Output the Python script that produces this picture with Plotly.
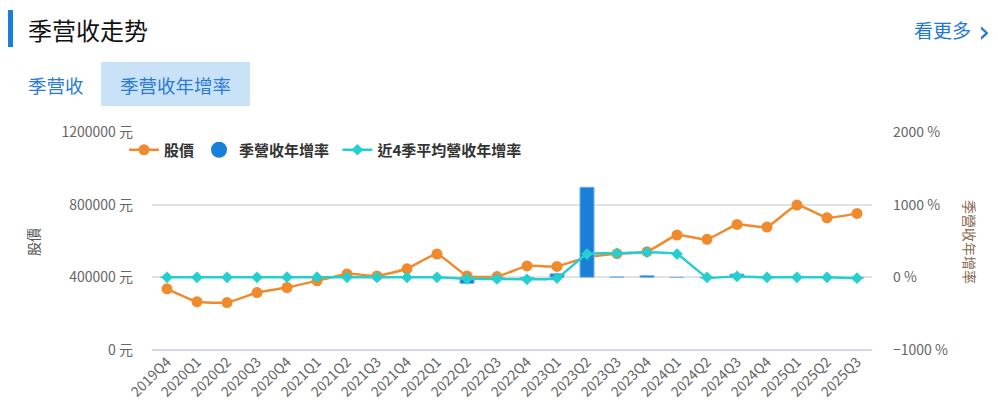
import plotly.graph_objects as go

quarters = ["2019Q4", "2020Q1", "2020Q2", "2020Q3", "2020Q4", "2021Q1", "2021Q2", "2021Q3",
            "2021Q4", "2022Q1", "2022Q2", "2022Q3", "2022Q4", "2023Q1", "2023Q2", "2023Q3",
            "2023Q4", "2024Q1", "2024Q2", "2024Q3", "2024Q4", "2025Q1", "2025Q2", "2025Q3"]
price = [337000, 266000, 261000, 316000, 344000, 381000, 419000, 408000,
         447000, 528000, 408000, 404000, 463000, 460000, 511000, 530000,
         541000, 633000, 609000, 691000, 677000, 798000, 728000, 752000]
yoy = [3, -5, 2, 4, 6, 5, 8, -3, 2, 5, -85, -20, -15, 50, 1240, 5, 25, -3, -10, 45, -5, 3, 2, -10]
yoy_avg4 = [0, 0, 0, 0, 2, 2, 0, 0, 0, 0, -20, -22, -28, -10, 320, 330, 345, 320, 0, 12, 0, 0, 0, -12]

W, H = 998, 419
L, R, T, B = 152, 872, 132, 350  # plot box in pixels


def px(x):
    return (x - L) / (R - L)


def py(y):
    return (B - y) / (B - T)


FONT = "Noto Sans CJK TC, Noto Sans, sans-serif"
ORANGE = "#f08a2c"
BLUE = "#1a7fd9"
CYAN = "#26cfcf"

fig = go.Figure()

fig.add_trace(go.Bar(x=quarters, y=yoy, yaxis="y2", name="季營收年增率",
                     marker=dict(color=BLUE, line=dict(color="#7fb8ec", width=1)),
                     width=0.47, showlegend=False))
fig.add_trace(go.Scatter(x=quarters, y=price, name="股價", mode="lines+markers",
                         line=dict(color=ORANGE, width=2.5, shape="spline", smoothing=0.4),
                         marker=dict(size=11, color=ORANGE)))
# legend entry for the bars, drawn as a round dot like the original
fig.add_trace(go.Scatter(x=[None], y=[None], name="季營收年增率 ", mode="markers",
                         marker=dict(size=17, color=BLUE, symbol="circle"), yaxis="y2"))
fig.add_trace(go.Scatter(x=quarters, y=yoy_avg4, yaxis="y2", name="近4季平均營收年增率",
                         mode="lines+markers",
                         line=dict(color=CYAN, width=2.5, shape="spline", smoothing=0.4),
                         marker=dict(size=9, color=CYAN, symbol="diamond")))

fig.update_layout(
    width=W, height=H,
    margin=dict(l=L, r=W - R, t=T, b=H - B),
    paper_bgcolor="white", plot_bgcolor="white",
    font=dict(family=FONT, color="#666", size=14),
    legend=dict(orientation="h", x=px(124), y=py(150), xanchor="left", yanchor="middle",
                font=dict(size=15, color="#333", family=FONT, weight="bold"),
                itemwidth=30, bgcolor="rgba(0,0,0,0)", traceorder="normal"),
    xaxis=dict(type="category", range=[-0.5, 23.5], tickangle=-45, showgrid=False,
               showline=False, ticks="", tickfont=dict(size=14, color="#666")),
    yaxis=dict(range=[0, 1200000], dtick=400000, tickformat="d", ticksuffix=" 元",
               gridcolor="#e3e3e3", gridwidth=1.5, zeroline=True, zerolinecolor="#d5d8e6",
               zerolinewidth=2, showline=False, ticks="", ticklabelstandoff=18,
               tickfont=dict(size=14, color="#666")),
    yaxis2=dict(range=[-1000, 2000], dtick=1000, ticksuffix=" %", overlaying="y",
                side="right", showgrid=False, zeroline=False, showline=False, ticks="",
                ticklabelstandoff=20, tickfont=dict(size=14, color="#666")),
    hovermode=False,
)

shapes = [
    dict(type="rect", xref="paper", yref="paper", x0=px(8), x1=px(13), y0=py(47), y1=py(10),
         fillcolor="#1a7fd9", line=dict(width=0), layer="above"),
    dict(type="rect", xref="paper", yref="paper", x0=px(101), x1=px(250), y0=py(106), y1=py(62),
         fillcolor="#c9e2f7", line=dict(width=0), layer="below"),
]
fig.update_layout(shapes=shapes)

ann = [
    dict(text="季营收走势", x=px(26), y=py(30), xanchor="left", yanchor="middle",
         font=dict(size=24, color="#111", family="Noto Sans CJK SC")),
    dict(text="看更多", x=px(973), y=py(29), xanchor="right", yanchor="middle",
         font=dict(size=19, color="#1f78d1", family="Noto Sans CJK SC")),
    dict(text="›", x=px(992), y=py(31), xanchor="right", yanchor="middle",
         font=dict(size=30, color="#1f78d1", family="DejaVu Sans")),
    dict(text="季营收", x=px(26), y=py(85), xanchor="left", yanchor="middle",
         font=dict(size=18.5, color="#2b7bd6", family="Noto Sans CJK SC")),
    dict(text="季营收年增率", x=px(175.5), y=py(85), xanchor="center", yanchor="middle",
         font=dict(size=18.5, color="#2b7bd6", family="Noto Sans CJK SC")),
    dict(text="股價", x=px(33), y=py(242), xanchor="center", yanchor="middle", textangle=-90,
         font=dict(size=14, color="#555")),
    dict(text="季營收年增率", x=px(970), y=py(242), xanchor="center", yanchor="middle",
         textangle=90, font=dict(size=14, color="#8a6a50")),
]
for a in ann:
    a.update(xref="paper", yref="paper", showarrow=False)
fig.update_layout(annotations=ann)

fig.write_html("out.html", config={"displayModeBar": False},
               post_script="document.body.style.margin='0';")
